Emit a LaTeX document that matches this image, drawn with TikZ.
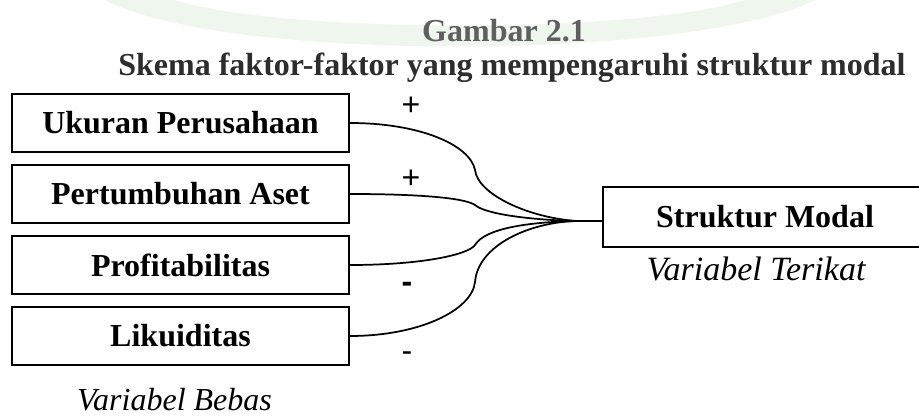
\documentclass[tikz,border=0pt]{standalone}
\usepackage{fontspec}
\setmainfont{Liberation Serif}
\setsansfont{Liberation Sans}
\usetikzlibrary{calc}
\definecolor{watermark}{RGB}{238,246,238}
\definecolor{title grey}{RGB}{95,95,95}
\definecolor{title dark}{RGB}{45,45,45}

\begin{document}
\begin{tikzpicture}[x=0.75pt,y=-0.75pt,factor/.style={draw,line width=1.4pt,minimum width=252.75pt,minimum height=43.5pt,inner sep=0pt,font=\fontsize{24}{28}\selectfont\bfseries},link/.style={line width=1.3pt}, sign/.style={anchor=base,inner sep=0pt,font=\fontsize{24}{28}\selectfont\sffamily}, caption/.style={anchor=base,inner sep=0pt,font=\fontsize{24}{28}\selectfont\itshape}]
  \useasboundingbox (0,0) rectangle (919,416);
  \clip (0,0) rectangle (919,416);
  \fill[watermark] (105,0) .. controls (220,62) and (690,62) .. (815,0) -- (745,0) .. controls (640,34) and (280,34) .. (175,0) -- cycle;

  \node[anchor=base,inner sep=0pt,text=title grey,font=\fontsize{24}{28}\selectfont\bfseries] (gambar) at (504,42) {Gambar 2.1};
  \node[anchor=base,inner sep=0pt,text=title dark,font=\fontsize{24}{28}\selectfont\bfseries] (judul) at (512,76) {Skema faktor-faktor yang mempengaruhi struktur modal};

  \node[factor] (ukuran) at (180.5,123) {Ukuran Perusahaan};
  \node[factor] (pertumbuhan aset) at ($ (ukuran) + (0,71) $) {Pertumbuhan Aset};
  \node[factor] (profitabilitas) at ($ (pertumbuhan aset) + (0,71) $) {Profitabilitas};
  \node[factor] (likuiditas) at ($ (profitabilitas) + (0,71) $) {Likuiditas};
  \node[factor,minimum width=243pt,minimum height=45pt] (struktur modal) at (765,217) {Struktur Modal};

  \node[caption] (bebas) at (174.5,410) {Variabel Bebas};
  \node[caption,font=\fontsize{25.5}{28}\selectfont\itshape] (terikat) at (756,280) {Variabel Terikat};

  \node[sign] (sign1) at (411,116) {+};
  \node[sign] (sign2) at (411,189) {+};
  \node[sign,font=\fontsize{24}{28}\selectfont\sffamily\bfseries] (sign3) at (407,292) {-};
  \node[sign] (sign4) at (407,361) {-};

  \coordinate (junction) at (577,221);
  \draw[link] (ukuran.east) .. controls (420,123) and (470,145) .. (475,170) .. controls (478,195) and (530,218) .. (junction);
  \draw[link] (pertumbuhan aset.east) .. controls (420,194) and (465,198) .. (475,205) .. controls (485,214) and (530,220) .. (junction);
  \draw[link] (profitabilitas.east) .. controls (420,265) and (468,255) .. (475,245) .. controls (485,228) and (530,222) .. (junction);
  \draw[link] (likuiditas.east) .. controls (420,336) and (472,310) .. (475,282) .. controls (478,245) and (530,222) .. (junction);
  \draw[line width=1.6pt] (junction) -- (junction -| struktur modal.west);
\end{tikzpicture}
\end{document}
